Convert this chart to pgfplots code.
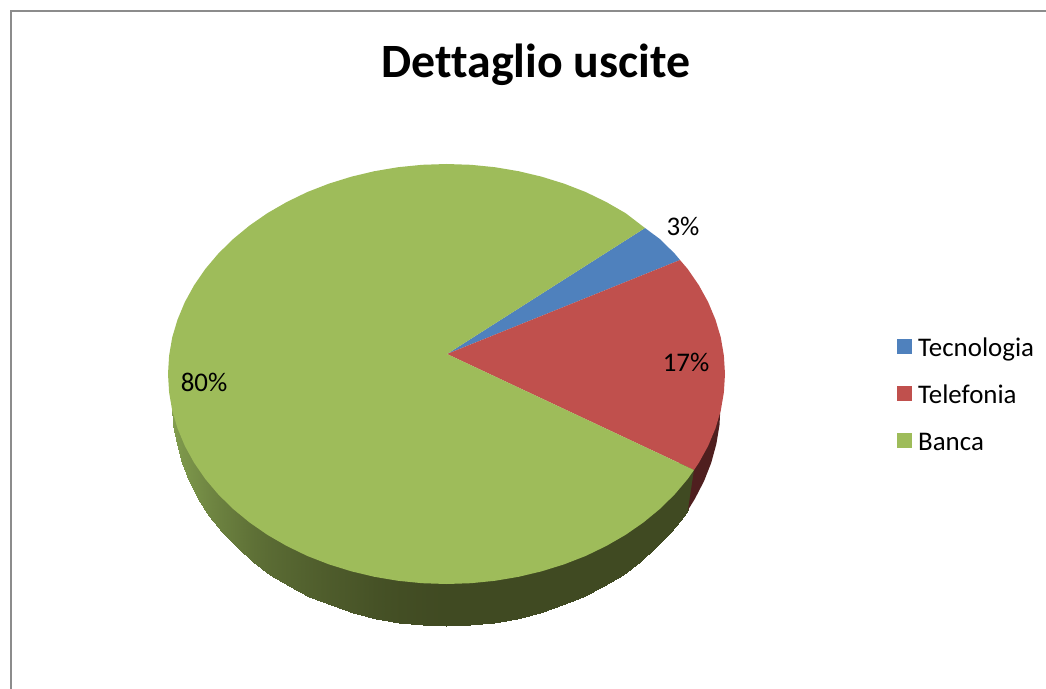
\documentclass[border=0pt]{standalone}
\usepackage{fontspec}
\setmainfont{Carlito}[Ligatures=NoCommon]
\usepackage{pgfplots}
\pgfplotsset{compat=1.18}
\definecolor{blueface}{HTML}{4F81BD}
\definecolor{redface}{HTML}{C0504D}
\definecolor{greenface}{HTML}{9EBC5A}
\definecolor{redside}{HTML}{4F1F1F}
\definecolor{framegray}{HTML}{8C8C8C}
\begin{document}
\begin{tikzpicture}
\useasboundingbox (0,0) rectangle (1046bp,689bp);
\begin{axis}[
    scale only axis,
    width=1046bp, height=689bp,
    xmin=0, xmax=1046, ymin=0, ymax=689,
    y dir=reverse,
    hide axis,
    colormap={side}{rgb255=(64,74,34) rgb255=(132,160,80)},
    point meta min=0, point meta max=1,
    legend style={at={(axis cs:897,336)}, anchor=north west, draw=none, fill=none,
        font=\fontsize{27}{32}\selectfont, row sep=19bp, inner sep=0pt,
        nodes={inner ysep=2bp, inner xsep=6bp, text height=18bp, text depth=6bp}},
    legend cell align=left,
    legend image code/.code={\fill[#1] (0bp,-3.5bp) rectangle (15bp,11.5bp);},
]
% frame
\addplot[framegray, line width=2bp, forget plot] coordinates {(1046,11) (11,11) (11,689)};
% side wall of the green slice
\addplot[surf, shader=interp, mesh/cols=33, point meta=explicit, forget plot] table[x=x, y=y, meta=c] {
x y c
172.5 346 1
173.5 365.2 0.98
176.7 384.2 0.93
181.8 402.9 0.88
189 421.2 0.84
198.2 439 0.78
209.2 456 0.7
222.1 472.2 0.62
236.6 487.4 0.54
252.8 501.6 0.45
270.4 514.5 0.38
289.3 526.2 0.32
309.5 536.5 0.26
330.7 545.4 0.2
352.8 552.7 0.15
375.6 558.5 0.09
398.9 562.7 0.05
422.6 565.2 0.02
446.5 566 0
470.4 565.2 0
494.1 562.7 0
517.4 558.5 0
540.2 552.7 0
562.3 545.4 0
583.5 536.5 0
603.7 526.2 0
622.6 514.5 0
640.2 501.6 0
656.4 487.4 0
670.9 472.2 0
683.8 456 0
688 450 0
694 440 0
172.5 406 1
173.5 425.2 0.98
176.7 444.2 0.93
181.8 462.9 0.88
189 481.2 0.84
198.2 499 0.78
209.2 516 0.7
222.1 532.2 0.62
236.6 547.4 0.54
252.8 561.6 0.45
270.4 574.5 0.38
289.3 586.2 0.32
309.5 596.5 0.26
330.7 605.4 0.2
352.8 612.7 0.15
375.6 618.5 0.09
398.9 622.7 0.05
422.6 625.2 0.02
446.5 626 0
470.4 625.2 0
494.1 622.7 0
517.4 618.5 0
540.2 612.7 0
562.3 605.4 0
583.5 596.5 0
603.7 586.2 0
622.6 574.5 0
640.2 561.6 0
656.4 547.4 0
670.9 532.2 0
683.8 516 0
688 510 0
694 470 0
};
% side wall of the red slice
\addplot[fill=redside, draw=none, forget plot] coordinates {
    (694,470) (688,510) (694.8,499) (704,481.2) (711.2,462.9) (716.3,444.2)
    (719.5,425.2) (720.5,406) (700,406)} -- cycle;
% top faces
\addplot[fill=blueface, draw=none] coordinates {
    (447,354) (645,228) (659.8,239) (674.6,253.5) (680,260)} -- cycle;
\addlegendentry{Tecnologia}
\addplot[fill=redface, draw=none] coordinates {
    (447,354) (680,260) (687.7,269) (698.9,285.3) (708.2,302.2) (715.5,319.7)
    (720.8,337.5) (723.9,355.7) (725,374) (723.9,392.3) (720.8,410.5) (715.5,428.3)
    (708.2,445.8) (698.9,462.7) (694,470)} -- cycle;
\addlegendentry{Telefonia}
\addplot[fill=greenface, draw=none] coordinates {
    (447,354) (694,470) (687.7,479) (674.6,494.5) (659.8,509) (643.4,522.5)
    (625.5,534.9) (606.2,546) (585.8,555.9) (564.2,564.3) (541.7,571.3)
    (518.6,576.8) (494.9,580.8) (470.8,583.2) (446.5,584) (422.2,583.2)
    (398.1,580.8) (374.4,576.8) (351.3,571.3) (328.8,564.3) (307.2,555.9)
    (286.8,546) (267.5,534.9) (249.6,522.5) (233.2,509) (218.4,494.5)
    (205.3,479) (194.1,462.7) (184.8,445.8) (177.5,428.3) (172.2,410.5)
    (169.1,392.3) (168,374) (169.1,355.7) (172.2,337.5) (177.5,319.7)
    (184.8,302.2) (194.1,285.3) (205.3,269) (218.4,253.5) (233.2,239)
    (249.6,225.5) (267.5,213.1) (286.8,202) (307.2,192.1) (328.8,183.7)
    (351.3,176.7) (374.4,171.2) (398.1,167.2) (422.2,164.8) (446.5,164)
    (470.8,164.8) (494.9,167.2) (518.6,171.2) (541.7,176.7) (564.2,183.7)
    (585.8,192.1) (606.2,202) (625.5,213.1) (645,228)} -- cycle;
\addlegendentry{Banca}
% texts
\node[font=\fontsize{48}{58}\selectfont\bfseries] at (axis cs:536,65) {Dettaglio uscite};
\node[font=\fontsize{27}{32}\selectfont] at (axis cs:683,226) {3\%};
\node[font=\fontsize{27}{32}\selectfont] at (axis cs:686,362) {17\%};
\node[font=\fontsize{27}{32}\selectfont] at (axis cs:204,382) {80\%};
\end{axis}
\end{tikzpicture}
\end{document}
